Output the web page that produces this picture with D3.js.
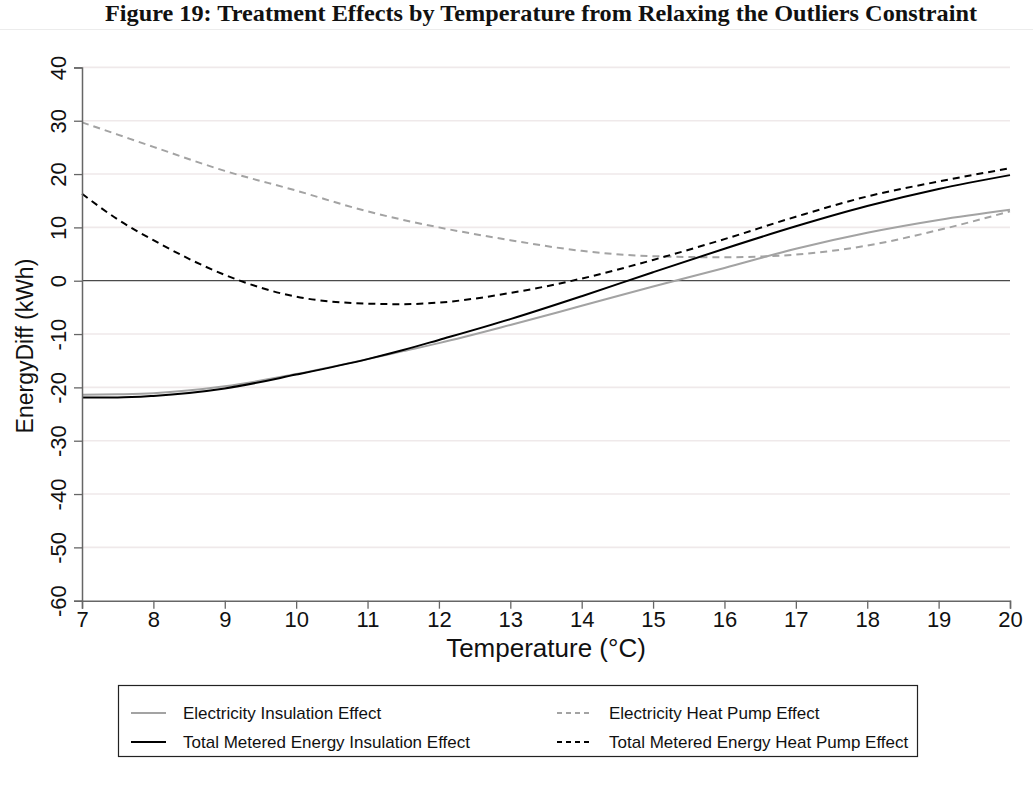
<!DOCTYPE html>
<html>
<head>
<meta charset="utf-8">
<script src="https://cdn.jsdelivr.net/npm/d3@7"></script>
<style>
  html, body { margin: 0; padding: 0; background: #fff; }
  svg { display: block; }
</style>
</head>
<body>
<svg id="chart" width="1033" height="797"></svg>
<script>
// Temperature grid (°C) at which the fitted effects are read
const temps = [7, 7.5, 8, 9, 10, 11, 11.5, 12, 13, 14, 15, 16, 17, 18, 19, 20];

// Fitted treatment effects, kWh difference
const elecInsulation  = [-21.4, -21.3, -21.1, -19.8, -17.5, -14.7, -13.2, -11.7, -8.3, -4.7, -1.1, 2.4, 6.0, 9.0, 11.4, 13.3];
const elecHeatPump    = [29.7, 27.4, 25.1, 20.6, 16.9, 13.0, 11.4, 10.0, 7.6, 5.6, 4.6, 4.4, 4.9, 6.6, 9.5, 13.0];
const totalInsulation = [-21.9, -21.9, -21.6, -20.2, -17.6, -14.7, -13.0, -11.1, -7.2, -2.9, 1.6, 6.0, 10.2, 14.0, 17.2, 19.8];
const totalHeatPump   = [16.3, 11.5, 7.6, 1.1, -3.0, -4.3, -4.4, -4.1, -2.3, 0.4, 3.9, 7.8, 12.0, 15.8, 18.6, 21.1];

const xTicks = [7, 8, 9, 10, 11, 12, 13, 14, 15, 16, 17, 18, 19, 20];
const yTicks = [-60, -50, -40, -30, -20, -10, 0, 10, 20, 30, 40];

const seriesNames = [
  "Electricity Insulation Effect",
  "Electricity Heat Pump Effect",
  "Total Metered Energy Insulation Effect",
  "Total Metered Energy Heat Pump Effect"
];

const series = [
  { name: seriesNames[0], values: elecInsulation,  color: "#a3a3a3", dash: null },
  { name: seriesNames[1], values: elecHeatPump,    color: "#a3a3a3", dash: "7,5" },
  { name: seriesNames[2], values: totalInsulation, color: "#000000", dash: null },
  { name: seriesNames[3], values: totalHeatPump,   color: "#000000", dash: "7,5" }
];

const svg = d3.select("#chart");
const W = 1033, H = 797;
svg.append("rect").attr("width", W).attr("height", H).attr("fill", "#fff");

const sans = "'Liberation Sans', Arial, sans-serif";
const serif = "'Liberation Serif', 'Times New Roman', serif";
// plain hyphen-minus for negative tick labels
const fmt = d => String(d);

// Title
svg.append("text")
  .attr("x", 541).attr("y", 21)
  .attr("text-anchor", "middle")
  .attr("font-family", serif)
  .attr("font-weight", "bold")
  .attr("font-size", 23)
  .attr("textLength", 872)
  .attr("lengthAdjust", "spacingAndGlyphs")
  .attr("fill", "#111")
  .text("Figure 19: Treatment Effects by Temperature from Relaxing the Outliers Constraint");

svg.append("line")
  .attr("x1", 0).attr("x2", W).attr("y1", 29.5).attr("y2", 29.5)
  .attr("stroke", "#ececec").attr("stroke-width", 1);

// Scales
const x = d3.scaleLinear().domain([7, 20]).range([82, 1010]);
const y = d3.scaleLinear().domain([-60, 40]).range([600.7, 67.4]);

// Horizontal gridlines
svg.append("g")
  .selectAll("line")
  .data(yTicks.filter(v => v !== -60 && v !== 0))
  .join("line")
  .attr("x1", x(7)).attr("x2", x(20))
  .attr("y1", d => y(d)).attr("y2", d => y(d))
  .attr("stroke", "#efe9ea").attr("stroke-width", 1.6);

// Reference line at zero
svg.append("line")
  .attr("x1", x(7)).attr("x2", x(20))
  .attr("y1", y(0)).attr("y2", y(0))
  .attr("stroke", "#4a4a4a").attr("stroke-width", 1.2);

// Series lines
const line = d3.line()
  .x((d, i) => x(temps[i]))
  .y(d => y(d))
  .curve(d3.curveMonotoneX);

// Draw order: grey first, black on top
[1, 0, 3, 2].forEach(k => {
  const s = series[k];
  svg.append("path")
    .datum(s.values)
    .attr("d", line)
    .attr("fill", "none")
    .attr("stroke", s.color)
    .attr("stroke-width", 2)
    .attr("stroke-dasharray", s.dash);
});

// Axes
const yAxis = d3.axisLeft(y).tickValues(yTicks).tickSize(8).tickFormat(fmt);
const gy = svg.append("g").attr("transform", `translate(${x(7)},0)`).call(yAxis);
gy.select(".domain").attr("stroke", "#666").attr("stroke-width", 1.5);
gy.selectAll(".tick line").attr("stroke", "#666").attr("stroke-width", 1.3);
gy.selectAll(".tick text")
  .attr("font-family", sans).attr("font-size", 22).attr("fill", "#111")
  .attr("text-anchor", "middle")
  .attr("transform", "rotate(-90)")
  .attr("x", 0).attr("dy", 0)
  .attr("y", -16);

const xAxis = d3.axisBottom(x).tickValues(xTicks).tickSize(8).tickFormat(fmt);
const gx = svg.append("g").attr("transform", `translate(0,${y(-60)})`).call(xAxis);
gx.select(".domain").attr("stroke", "#666").attr("stroke-width", 1.5);
gx.selectAll(".tick line").attr("stroke", "#666").attr("stroke-width", 1.3);
gx.selectAll(".tick text")
  .attr("font-family", sans).attr("font-size", 22).attr("fill", "#111")
  .attr("y", 11);

// Axis titles
svg.append("text")
  .attr("transform", `translate(33,${(y(40) + y(-60)) / 2 + 12}) rotate(-90)`)
  .attr("text-anchor", "middle")
  .attr("font-family", sans).attr("font-size", 23).attr("fill", "#111")
  .text("EnergyDiff (kWh)");

svg.append("text")
  .attr("x", (x(7) + x(20)) / 2).attr("y", 657)
  .attr("text-anchor", "middle")
  .attr("font-family", sans).attr("font-size", 26).attr("fill", "#111")
  .text("Temperature (°C)");

// Legend
const legend = svg.append("g");
legend.append("rect")
  .attr("x", 118.5).attr("y", 685.5).attr("width", 799).attr("height", 71)
  .attr("fill", "#fff").attr("stroke", "#222").attr("stroke-width", 1.2);

const legendOrder = [0, 1, 2, 3];
const colX = [131, 557];
const rowY = [713, 742];
legendOrder.forEach((k, i) => {
  const s = series[k];
  const cx = colX[i % 2], cy = rowY[Math.floor(i / 2)];
  legend.append("line")
    .attr("x1", cx).attr("x2", cx + 35)
    .attr("y1", cy).attr("y2", cy)
    .attr("stroke", s.color).attr("stroke-width", 2)
    .attr("stroke-dasharray", s.dash ? "5,4" : null);
  legend.append("text")
    .attr("x", cx + 52).attr("y", cy)
    .attr("dy", "0.35em")
    .attr("font-family", sans).attr("font-size", 17).attr("fill", "#111")
    .text(s.name);
});
</script>
</body>
</html>
